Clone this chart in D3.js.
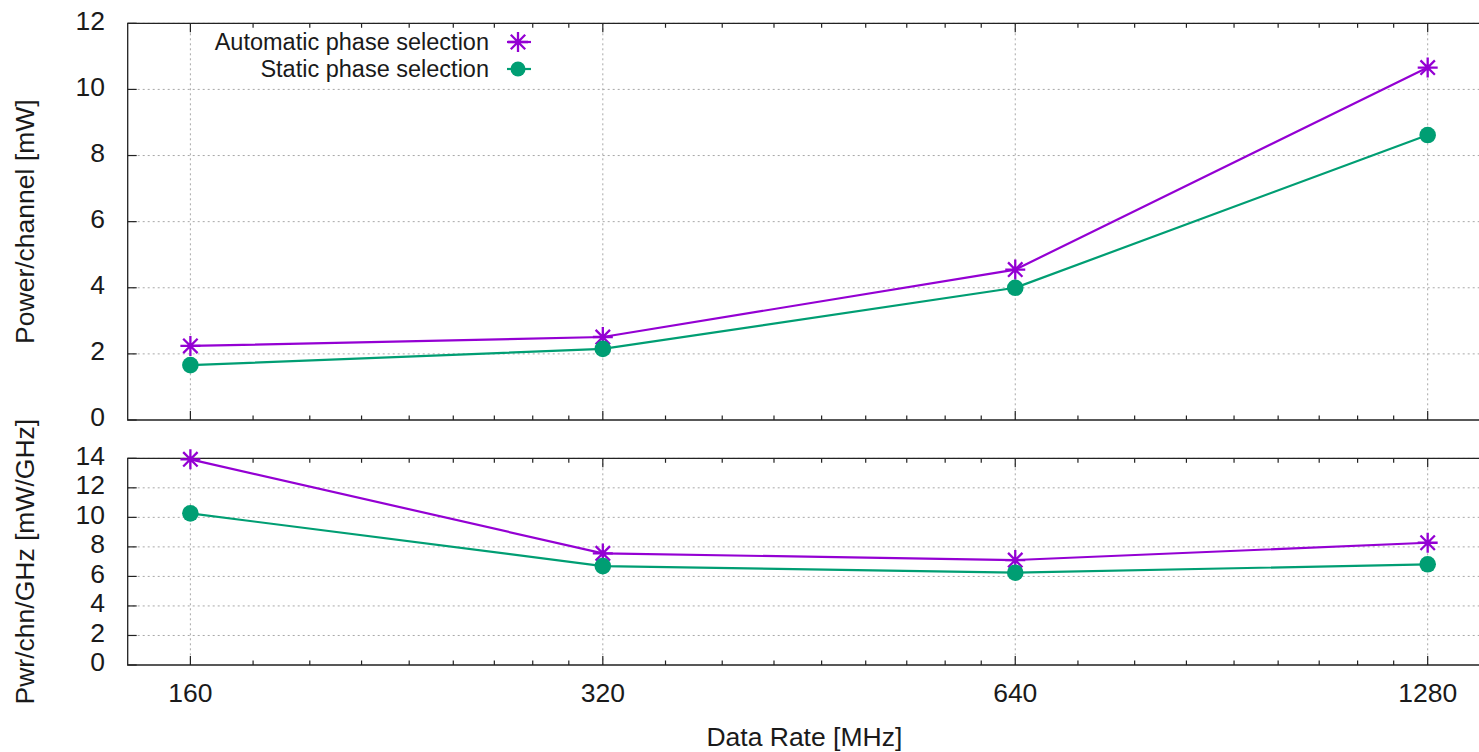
<!DOCTYPE html>
<html>
<head>
<meta charset="utf-8">
<script src="https://cdn.jsdelivr.net/npm/d3@7"></script>
<style>
  body { margin: 0; background: #fff; }
  text { font-family: "Liberation Sans", Arial, sans-serif; fill: #1a1a1a; }
</style>
</head>
<body>
<div id="canvas"></div>
<script>
"use strict"

/* Data */
let rates = [160, 320, 640, 1280];
let rateLabels = ["160", "320", "640", "1280"];
let autoPower = [2.24, 2.51, 4.55, 10.66];
let staticPower = [1.66, 2.15, 4.0, 8.62];
let autoPerGHz = [13.93, 7.56, 7.11, 8.28];
let staticPerGHz = [10.27, 6.70, 6.25, 6.82];
let seriesNames = ["Automatic phase selection", "Static phase selection"];
let topTicks = [0, 2, 4, 6, 8, 10, 12];
let bottomTicks = [0, 2, 4, 6, 8, 10, 12, 14];

/* Drawing config */
let svgWidth = 1479;
let svgHeight = 752;
let left = 127.7;
let right = 1481;
let purple = "#9400d3";
let green = "#009e73";
let fontSize = 26.5;
let keyFontSize = 23.5;

let svg = d3.select("#canvas")
    .append("svg")
    .attr("width", svgWidth)
    .attr("height", svgHeight);

svg.append("rect")
    .attr("width", svgWidth)
    .attr("height", svgHeight)
    .attr("fill", "#fff");

let xScale = d3.scaleLog()
    .base(2)
    .domain([144, 1400])
    .range([left, right]);

// minor ticks: 8 per octave between the major rates
let minorTicks = [];
for (let i = 0; i < rates.length - 1; i++) {
    for (let k = 1; k <= 8; k++) {
        minorTicks.push(rates[i] * (1 + k / 9));
    }
}

let panels = [
    { top: 23.3, bottom: 420, max: 12, ticks: topTicks, label: "Power/channel [mW]",
      series: [autoPower, staticPower] },
    { top: 458.3, bottom: 665, max: 14, ticks: bottomTicks, label: "Pwr/chn/GHz [mW/GHz]",
      series: [autoPerGHz, staticPerGHz] }
];

function star(g, x, y, r) {
    let d = r * 0.72;
    let p = "M" + (x - r) + "," + y + "H" + (x + r) +
        "M" + x + "," + (y - r) + "V" + (y + r) +
        "M" + (x - d) + "," + (y - d) + "L" + (x + d) + "," + (y + d) +
        "M" + (x - d) + "," + (y + d) + "L" + (x + d) + "," + (y - d);
    g.append("path")
        .attr("d", p)
        .attr("stroke", purple)
        .attr("stroke-width", 2.3)
        .attr("fill", "none");
}

panels.forEach(function (pn) {
    let yScale = d3.scaleLinear()
        .domain([0, pn.max])
        .range([pn.bottom, pn.top]);

    let g = svg.append("g");

    /* grid */
    g.selectAll(".hgrid")
        .data(pn.ticks.slice(1, pn.ticks.length))
        .join("line")
        .attr("x1", left)
        .attr("x2", right)
        .attr("y1", d => yScale(d))
        .attr("y2", d => yScale(d))
        .attr("stroke", "#a8a8a8")
        .attr("stroke-width", 1)
        .attr("stroke-dasharray", "2,3");

    g.selectAll(".vgrid")
        .data(rates)
        .join("line")
        .attr("x1", d => xScale(d))
        .attr("x2", d => xScale(d))
        .attr("y1", pn.top)
        .attr("y2", pn.bottom)
        .attr("stroke", "#a8a8a8")
        .attr("stroke-width", 1)
        .attr("stroke-dasharray", "2,3");

    /* y ticks + labels */
    pn.ticks.forEach(function (t) {
        g.append("line")
            .attr("x1", left).attr("x2", left + 9)
            .attr("y1", yScale(t)).attr("y2", yScale(t))
            .attr("stroke", "#222").attr("stroke-width", 1.2);
        g.append("text")
            .attr("x", 105)
            .attr("y", yScale(t))
            .attr("dy", "0.24em")
            .attr("text-anchor", "end")
            .attr("font-size", fontSize)
            .text(String(t));
    });

    /* x ticks on both edges */
    [pn.top, pn.bottom].forEach(function (edge) {
        let dir = edge === pn.top ? 1 : -1;
        rates.forEach(function (r) {
            g.append("line")
                .attr("x1", xScale(r)).attr("x2", xScale(r))
                .attr("y1", edge).attr("y2", edge + dir * 9)
                .attr("stroke", "#222").attr("stroke-width", 1.2);
        });
        minorTicks.forEach(function (r) {
            g.append("line")
                .attr("x1", xScale(r)).attr("x2", xScale(r))
                .attr("y1", edge).attr("y2", edge + dir * 4.5)
                .attr("stroke", "#222").attr("stroke-width", 1.2);
        });
    });

    /* border */
    g.append("path")
        .attr("d", "M" + right + "," + pn.top + "H" + left + "V" + pn.bottom + "H" + right)
        .attr("fill", "none")
        .attr("stroke", "#222")
        .attr("stroke-width", 1.3);

    /* y label */
    g.append("text")
        .attr("transform", "translate(34," + ((pn.top + pn.bottom) / 2) + ") rotate(-90)")
        .attr("text-anchor", "middle")
        .attr("font-size", fontSize)
        .text(pn.label);

    /* series */
    let line = d3.line()
        .x((d, i) => xScale(rates[i]))
        .y(d => yScale(d));

    g.append("path")
        .datum(pn.series[0])
        .attr("d", line)
        .attr("fill", "none")
        .attr("stroke", purple)
        .attr("stroke-width", 2.2);

    g.append("path")
        .datum(pn.series[1])
        .attr("d", line)
        .attr("fill", "none")
        .attr("stroke", green)
        .attr("stroke-width", 2.2);

    pn.series[0].forEach(function (v, i) {
        star(g, xScale(rates[i]), yScale(v), 10);
    });

    g.selectAll(".dot")
        .data(pn.series[1])
        .join("circle")
        .attr("cx", (d, i) => xScale(rates[i]))
        .attr("cy", d => yScale(d))
        .attr("r", 8.3)
        .attr("fill", green);
});

/* x tick labels */
rates.forEach(function (r, i) {
    svg.append("text")
        .attr("x", xScale(r))
        .attr("y", 702)
        .attr("text-anchor", "middle")
        .attr("font-size", fontSize)
        .text(rateLabels[i]);
});

svg.append("text")
    .attr("x", (left + right) / 2)
    .attr("y", 746)
    .attr("text-anchor", "middle")
    .attr("font-size", fontSize)
    .text("Data Rate [MHz]");

/* legend */
let legendY = [42, 69];
seriesNames.forEach(function (name, i) {
    svg.append("text")
        .attr("x", 489)
        .attr("y", legendY[i])
        .attr("dy", "0.34em")
        .attr("text-anchor", "end")
        .attr("font-size", keyFontSize)
        .text(name);
    svg.append("line")
        .attr("x1", 507).attr("x2", 531)
        .attr("y1", legendY[i]).attr("y2", legendY[i])
        .attr("stroke", i === 0 ? purple : green)
        .attr("stroke-width", 2.2);
});
star(svg, 518, legendY[0], 10);
svg.append("circle")
    .attr("cx", 518)
    .attr("cy", legendY[1])
    .attr("r", 7.5)
    .attr("fill", green);
</script>
</body>
</html>
